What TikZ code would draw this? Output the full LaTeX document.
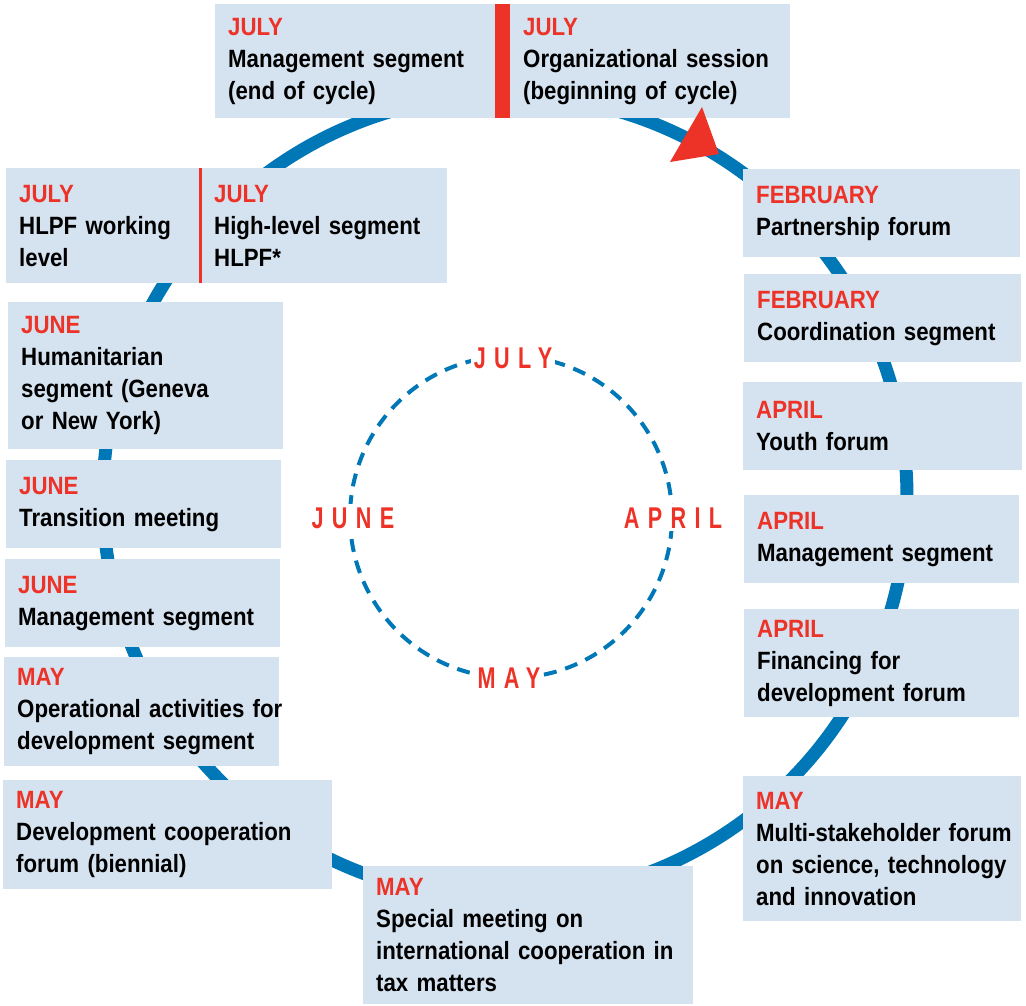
\documentclass[tikz,border=0pt]{standalone}
\usepackage{fontspec}
\setmainfont{Liberation Sans}[FakeStretch=0.89]
\newfontfamily\ringfont{Liberation Sans}[FakeStretch=0.72,LetterSpace=28]
\definecolor{ringblue}{RGB}{0,119,182}
\definecolor{boxblue}{RGB}{213,226,239}
\definecolor{evred}{RGB}{237,50,39}
\newcommand{\mon}[1]{\textcolor{evred}{#1}}

\begin{document}
\begin{tikzpicture}[x=1pt,y=-1pt,
    evbox/.style 2 args={anchor=north west,fill=boxblue,
        minimum width=#1pt,minimum height=#2pt,
        /utils/exec={\pgfmathsetmacro\evtw{#1-26}},text width=\evtw pt,
        inner xsep=13pt,inner ysep=0pt,align=left,
        font=\bfseries\fontsize{25}{32}\selectfont},
    ringlbl/.style={fill=white,inner sep=3pt,anchor=base,text=evred,
        font=\ringfont\bfseries\fontsize{30}{30}\selectfont}]
    \useasboundingbox (0,0) rectangle (1026,1005);

    % the yearly cycle
    \draw[ringblue,line width=13pt] (505,497) circle[radius=402pt];
    \draw[ringblue,line width=4pt,dash pattern=on 13pt off 9pt] (511,517) circle[radius=161pt];
    \node[ringlbl] (rjul) at (513,368) {JULY};
    \node[ringlbl] (rmay) at (509,688) {MAY};
    \node[ringlbl] (rjun) at (353,528) {JUNE};
    \node[ringlbl] (rapr) at (673,528) {APRIL};

    % top
    \node[evbox={280}{114}] (jmg) at (215,4) {\mon{JULY}\\Management segment\\(end of cycle)};
    \node[evbox={280}{114}] (jorg) at (510,4) {\mon{JULY}\\\mbox{Organizational session}\\(beginning of cycle)};
    % left side
    \node[evbox={194}{115}] (hlpfw) at (6,168) {\mon{JULY}\\HLPF working\\level};
    \node[evbox={246}{115}] (hlpfh) at (201,168) {\mon{JULY}\\High-level segment\\HLPF*};
    \node[evbox={275}{147}] (hum) at (8,302) {\mon{JUNE}\\Humanitarian\\segment (Geneva\\or New York)};
    \node[evbox={275}{88}] (trans) at (6,460) {\mon{JUNE}\\Transition meeting};
    \node[evbox={275}{88}] (jmgt) at (5,559) {\mon{JUNE}\\Management segment};
    \node[evbox={275}{109}] (oper) at (4,657) {\mon{MAY}\\\mbox{Operational activities for}\\development segment};
    \node[evbox={329}{109}] (dcf) at (3,780) {\mon{MAY}\\\mbox{Development cooperation}\\forum (biennial)};
    % bottom
    \node[evbox={330}{138}] (tax) at (363,866) {\mon{MAY}\\Special meeting on\\\mbox{international cooperation in}\\tax matters};
    % right side
    \node[evbox={278}{145}] (sti) at (743,776) {\mon{MAY}\\\mbox{Multi-stakeholder forum}\\\mbox{on science, technology}\\and innovation};
    \node[evbox={275}{108}] (ffd) at (744,609) {\mon{APRIL}\\Financing for\\development forum};
    \node[evbox={275}{88}] (amgt) at (744,495) {\mon{APRIL}\\Management segment};
    \node[evbox={279}{88}] (youth) at (743,382) {\mon{APRIL}\\Youth forum};
    \node[evbox={277}{88}] (coord) at (744,274) {\mon{FEBRUARY}\\\mbox{Coordination segment}};
    \node[evbox={277}{88}] (ptn) at (743,169) {\mon{FEBRUARY}\\Partnership forum};

    % red marks
    \fill[evred] (jmg.north east) rectangle (jorg.south west);
    \draw[evred,line width=3pt] (hlpfw.north east) -- (hlpfw.south east);
    \fill[evred] (702,107) -- (670,162) -- (719,154) -- cycle;
\end{tikzpicture}
\end{document}
